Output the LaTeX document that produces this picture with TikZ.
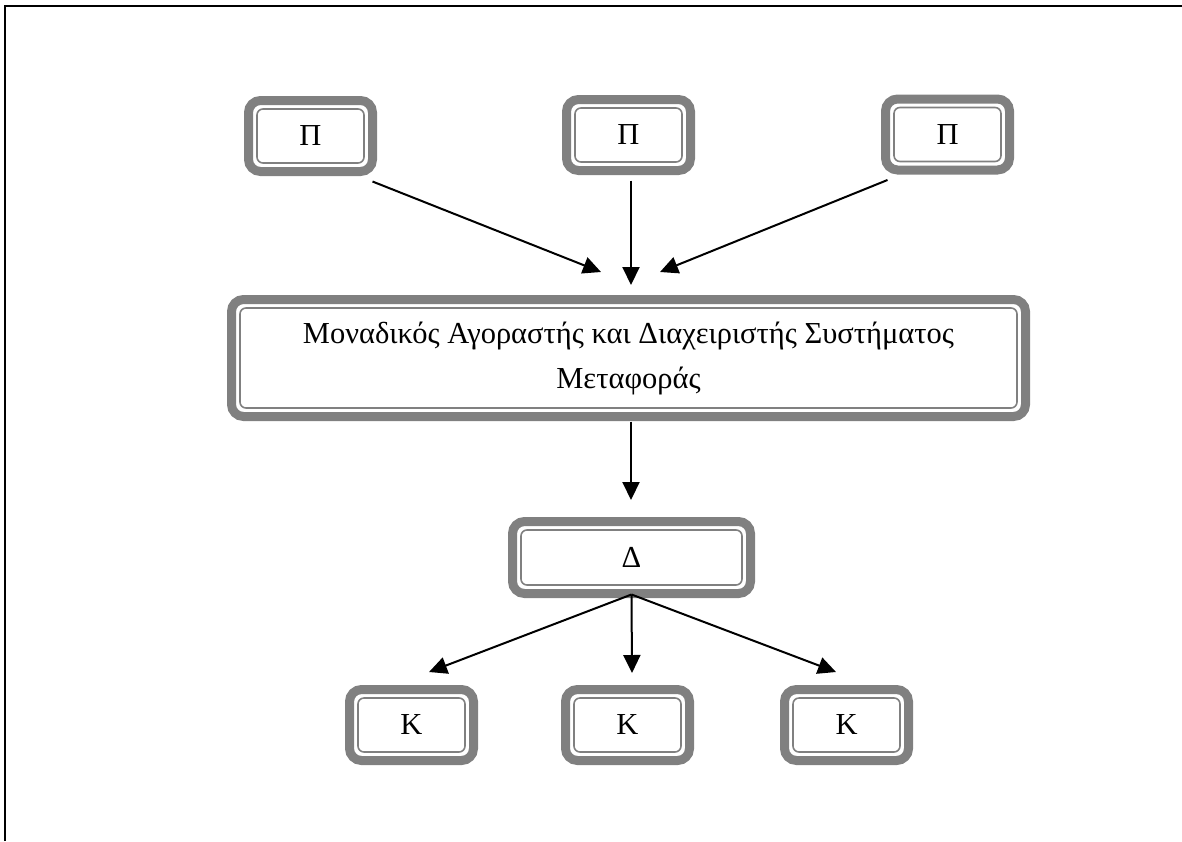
\documentclass[tikz,border=0pt]{standalone}
\usepackage{fontspec}
\setmainfont{Liberation Serif}
\usetikzlibrary{arrows.meta}
\definecolor{boxgray}{HTML}{808080}
\tikzset{
  frm/.style={draw=boxgray, line width=9pt, rounded corners=12pt, fill=white,
    outer sep=0pt, inner sep=0pt, font=\fontsize{30.5}{45}\selectfont, align=center},
  small/.style={frm, minimum width=124pt, minimum height=71pt},
  innerline/.style={draw=boxgray, line width=1.6pt, rounded corners=6pt},
  conn/.style={line width=2pt, -{Triangle[length=18pt,width=17pt]}}
}
\begin{document}
\begin{tikzpicture}[x=1pt,y=-1pt]
\useasboundingbox (0,0) rectangle (1182,841);
\draw[line width=2pt] (5,841) -- (5,6) -- (1182,6);
\node[small] (p1) at (310.5,136) {Π};
\node[small] (p2) at (628.5,135) {Π};
\node[small] (p3) at (947.5,134.5) {Π};
\node[frm, minimum width=794pt, minimum height=117pt] (m) at (628.5,358)
  {Μοναδικός Αγοραστής και Διαχειριστής Συστήματος\\Μεταφοράς};
\node[frm, minimum width=238pt, minimum height=72pt] (d) at (631.5,557.5) {Δ};
\node[small] (k1) at (411.5,725) {Κ};
\node[small] (k2) at (627.5,725) {Κ};
\node[small] (k3) at (846.5,725) {Κ};
\foreach \n in {p1,p2,p3,m,d,k1,k2,k3}
  \draw[innerline] ([shift={(8.5pt,-8.5pt)}]\n.north west) rectangle ([shift={(-8.5pt,8.5pt)}]\n.south east);
\coordinate (t1) at (601,272);
\coordinate (t2) at (631,285);
\coordinate (t3) at (660,272);
\coordinate (t4) at (631,500);
\coordinate (u1) at (429,672);
\coordinate (u2) at (632,673);
\coordinate (u3) at (836,672);
\draw[conn] ([yshift=-10pt]p1.south east) -- (t1);
\draw[conn] ([xshift=2.5pt,yshift=-10pt]p2.south) -- (t2);
\draw[conn] ([xshift=2pt,yshift=-10pt]p3.south west) -- (t3);
\draw[conn] ([xshift=2.5pt,yshift=-5pt]m.south) -- (t4);
\draw[conn] ([yshift=-1pt]d.south) -- (u1);
\draw[conn] ([yshift=-1pt]d.south) -- (u2);
\draw[conn] ([yshift=-1pt]d.south) -- (u3);
\end{tikzpicture}
\end{document}
